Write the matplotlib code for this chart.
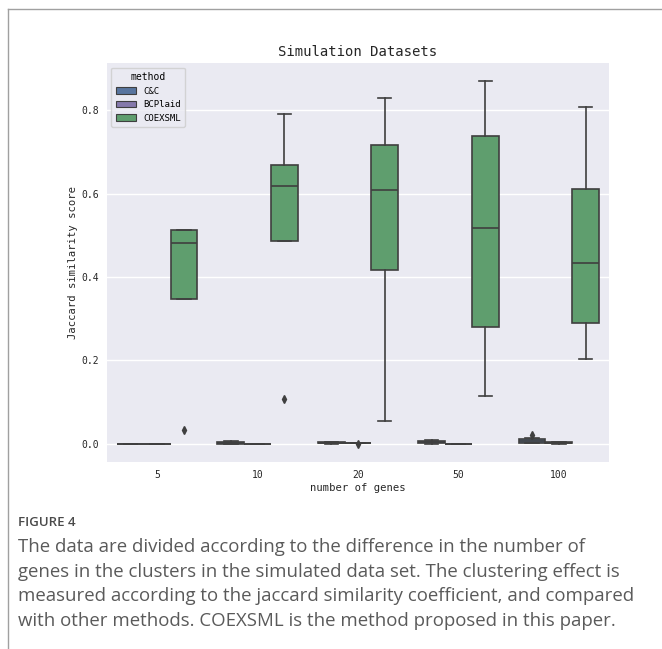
"""
Simulation Datasets - Jaccard similarity boxplots (figure 4 recreation)
"""

import matplotlib
matplotlib.use('Agg')
import matplotlib.pyplot as plt
from matplotlib.patches import Patch
from matplotlib.lines import Line2D

# categories and methods
genes = ['5', '10', '20', '50', '100']
methods = ['C&C', 'BCPlaid', 'COEXSML']

# box statistics (one value per category)
cc_q1 = [0.0, 0.0, 0.001, 0.002, 0.003]
cc_med = [0.0, 0.002, 0.002, 0.004, 0.006]
cc_q3 = [0.0, 0.004, 0.004, 0.007, 0.011]
cc_lo = [0.0, 0.0, 0.0, 0.0, 0.001]
cc_hi = [0.0, 0.006, 0.005, 0.009, 0.013]
cc_fliers = [[], [], [], [], [0.021]]

bc_q1 = [0.0, 0.0, 0.001, 0.0, 0.001]
bc_med = [0.0, 0.0, 0.001, 0.0, 0.002]
bc_q3 = [0.0, 0.0, 0.001, 0.0, 0.004]
bc_lo = [0.0, 0.0, 0.001, 0.0, 0.0]
bc_hi = [0.0, 0.0, 0.001, 0.0, 0.005]
bc_fliers = [[], [], [0.0], [], []]

cx_q1 = [0.347, 0.486, 0.417, 0.281, 0.289]
cx_med = [0.481, 0.619, 0.608, 0.517, 0.433]
cx_q3 = [0.512, 0.668, 0.718, 0.738, 0.611]
cx_lo = [0.347, 0.486, 0.055, 0.115, 0.203]
cx_hi = [0.512, 0.791, 0.830, 0.870, 0.809]
cx_fliers = [[0.033], [0.108], [], [], []]

y_ticks = [0.0, 0.2, 0.4, 0.6, 0.8]

colors = ['#58759F', '#8579AB', '#5F9E6E']   # seaborn deep, desaturated 0.75
line_gray = '#3f3f3f'

caption_lines = [
    'The data are divided according to the difference in the number of',
    'genes in the clusters in the simulated data set. The clustering effect is',
    'measured according to the jaccard similarity coefficient, and compared',
    'with other methods. COEXSML is the method proposed in this paper.',
]

mono = ['DejaVu Sans Mono']
plt.rcParams.update({
    'font.family': mono,
    'axes.facecolor': '#EAEAF2',
    'axes.edgecolor': 'white',
})


def make_stats(q1, med, q3, lo, hi, fliers):
    stats = []
    for i in range(len(q1)):
        stats.append({'q1': q1[i], 'med': med[i], 'q3': q3[i],
                      'whislo': lo[i], 'whishi': hi[i], 'fliers': fliers[i]})
    return stats


fig = plt.figure(figsize=(6.62, 6.49), dpi=100)
ax = fig.add_axes([0.1616, 0.2881, 0.7584, 0.6148])

all_stats = [
    make_stats(cc_q1, cc_med, cc_q3, cc_lo, cc_hi, cc_fliers),
    make_stats(bc_q1, bc_med, bc_q3, bc_lo, bc_hi, bc_fliers),
    make_stats(cx_q1, cx_med, cx_q3, cx_lo, cx_hi, cx_fliers),
]

lw = 1.2
w = 0.8 / len(methods)
for j, stats in enumerate(all_stats):
    pos = [i + (j - 1) * w for i in range(len(genes))]
    ax.bxp(stats, positions=pos, widths=w, patch_artist=True,
           manage_ticks=False,
           boxprops=dict(facecolor=colors[j], edgecolor=line_gray, linewidth=lw),
           medianprops=dict(color=line_gray, linewidth=lw),
           whiskerprops=dict(color=line_gray, linewidth=lw),
           capprops=dict(color=line_gray, linewidth=lw),
           flierprops=dict(marker='d', markerfacecolor=line_gray,
                           markeredgecolor=line_gray, markersize=4))

ax.set_xlim(-0.5, len(genes) - 0.5)
ax.set_ylim(-0.0435, 0.9135)
ax.set_xticks(range(len(genes)))
ax.set_xticklabels(genes)
ax.set_yticks(y_ticks)
ax.set_yticklabels([f'{t:.1f}' for t in y_ticks])
ax.tick_params(length=0, labelsize=7, colors='#262626', pad=6)
ax.grid(axis='y', color='white', linewidth=1)
ax.set_axisbelow(True)
for s in ax.spines.values():
    s.set_visible(False)

ax.set_xlabel('number of genes', fontsize=7.6, color='#262626', labelpad=2)
ax.set_ylabel('Jaccard similarity score', fontsize=7.6, color='#262626', labelpad=2)
ax.set_title('Simulation Datasets', fontsize=10, color='#262626', pad=5)

handles = [Patch(facecolor=c, edgecolor=line_gray, linewidth=0.8) for c in colors]
leg = ax.legend(handles, methods, title='method', loc='upper left',
                fontsize=6.5, title_fontsize=7, frameon=True,
                borderpad=0.5, handlelength=2.2, labelspacing=0.5)
leg.get_frame().set_edgecolor('#cccccc')

# page frame
fig.add_artist(Line2D([8 / 662, 8 / 662], [0, 1 - 9 / 649],
                      transform=fig.transFigure, color='#a0a0a0', linewidth=1))
fig.add_artist(Line2D([8 / 662, 1], [1 - 9 / 649, 1 - 9 / 649],
                      transform=fig.transFigure, color='#a0a0a0', linewidth=1))

# caption
fig.text(18 / 662, 1 - 522 / 649, 'FIGURE 4', fontsize=9.5, family='Open Sans',
         fontweight='semibold', color='#4a4a4a', va='center')
for k, line in enumerate(caption_lines):
    fig.text(18 / 662, 1 - (547 + k * 24.6) / 649, line, fontsize=13.4,
             family='Open Sans', color='#5a5a5a', va='center')

fig.savefig('out.png', dpi=100)
